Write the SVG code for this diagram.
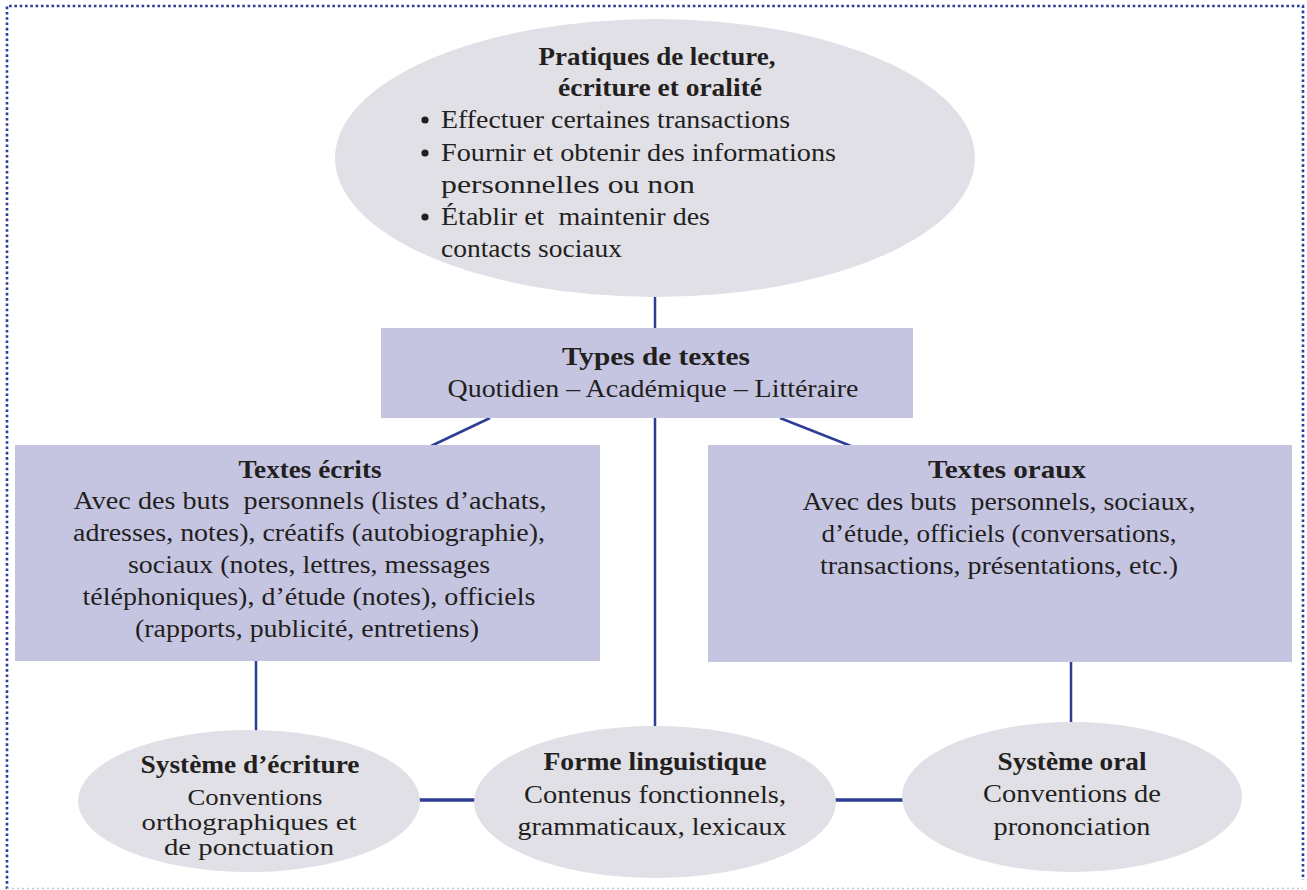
<svg xmlns="http://www.w3.org/2000/svg" width="1307" height="890" viewBox="0 0 1307 890">
<style>
.ell{fill:#e1e0e7}
.box{fill:#c5c5e2}
.ln{stroke:#2e3d95;stroke-width:2.5;fill:none}
.lnh{stroke:#2e3d95;stroke-width:3.5;fill:none}
text{font-family:"Liberation Serif","Times New Roman",serif;fill:#231f20;font-size:25px}
.b{font-weight:bold}
.c{text-anchor:middle}
.s{font-size:26px}
.t{font-size:23px}
.brd{stroke:#2e3d95;stroke-width:2.6;fill:none;stroke-dasharray:2.6 2.7}
.brdb{stroke:#c4c4d2;stroke-width:1.5;fill:none;stroke-dasharray:2 3}
</style>
<g id="border">
<path class="brd" d="M7,889 L7,6 L1303,6 L1303,880"/>
<path class="brdb" d="M7,888.5 L1303,888.5"/>
</g>
<g id="connectors">
<line class="ln" x1="655" y1="296" x2="655" y2="328"/>
<line class="ln" x1="655" y1="418" x2="655" y2="726"/>
<line class="ln" x1="490" y1="418" x2="431" y2="446"/>
<line class="ln" x1="780" y1="418" x2="851" y2="446"/>
<line class="ln" x1="256" y1="661" x2="256" y2="732"/>
<line class="ln" x1="1071" y1="662" x2="1071" y2="723"/>
<line class="lnh" x1="418" y1="800" x2="476" y2="800"/>
<line class="lnh" x1="833" y1="800" x2="904" y2="800"/>
</g>
<g id="pratiques">
<ellipse class="ell" cx="655" cy="158" rx="320" ry="139"/>
<text class="b c" x="657" y="65" textLength="237" lengthAdjust="spacingAndGlyphs">Pratiques de lecture,</text>
<text class="b c" x="660" y="96" textLength="204" lengthAdjust="spacingAndGlyphs">écriture et oralité</text>
<circle cx="425" cy="120" r="3.6" fill="#231f20"/>
<text x="441" y="128" textLength="349" lengthAdjust="spacingAndGlyphs">Effectuer certaines transactions</text>
<circle cx="425" cy="153" r="3.6" fill="#231f20"/>
<text x="441" y="161" textLength="395" lengthAdjust="spacingAndGlyphs">Fournir et obtenir des informations</text>
<text x="441" y="193" textLength="254" lengthAdjust="spacingAndGlyphs">personnelles ou non</text>
<circle cx="425" cy="217" r="3.6" fill="#231f20"/>
<text x="441" y="225" textLength="269" lengthAdjust="spacingAndGlyphs" xml:space="preserve">Établir et  maintenir des</text>
<text x="441" y="257" textLength="181" lengthAdjust="spacingAndGlyphs">contacts sociaux</text>
</g>
<g id="types">
<rect class="box" x="381" y="328" width="532" height="90"/>
<text class="b c" x="656" y="365" textLength="188" lengthAdjust="spacingAndGlyphs">Types de textes</text>
<text class="c" x="653" y="397" textLength="411" lengthAdjust="spacingAndGlyphs">Quotidien – Académique – Littéraire</text>
</g>
<g id="ecrits">
<rect class="box" x="15" y="445" width="585" height="216"/>
<text class="b c" x="310" y="478" textLength="143" lengthAdjust="spacingAndGlyphs">Textes écrits</text>
<text class="c" x="310" y="509" textLength="473" lengthAdjust="spacingAndGlyphs" xml:space="preserve">Avec des buts  personnels (listes d’achats,</text>
<text class="c" x="309" y="541" textLength="472" lengthAdjust="spacingAndGlyphs">adresses, notes), créatifs (autobiographie),</text>
<text class="c" x="309" y="573" textLength="362" lengthAdjust="spacingAndGlyphs">sociaux (notes, lettres, messages</text>
<text class="c" x="309" y="605" textLength="453" lengthAdjust="spacingAndGlyphs">téléphoniques), d’étude (notes), officiels</text>
<text class="c" x="307" y="637" textLength="344" lengthAdjust="spacingAndGlyphs">(rapports, publicité, entretiens)</text>
</g>
<g id="oraux">
<rect class="box" x="708" y="445" width="584" height="217"/>
<text class="b c" x="1007" y="478" textLength="158" lengthAdjust="spacingAndGlyphs">Textes oraux</text>
<text class="c" x="999" y="510" textLength="393" lengthAdjust="spacingAndGlyphs" xml:space="preserve">Avec des buts  personnels, sociaux,</text>
<text class="c" x="999" y="542" textLength="355" lengthAdjust="spacingAndGlyphs">d’étude, officiels (conversations,</text>
<text class="c" x="999" y="574" textLength="358" lengthAdjust="spacingAndGlyphs">transactions, présentations, etc.)</text>
</g>
<g id="systeme-ecriture">
<ellipse class="ell" cx="249" cy="801" rx="171" ry="71"/>
<text class="b c s" x="250" y="773" textLength="219" lengthAdjust="spacingAndGlyphs">Système d’écriture</text>
<text class="c t" x="255" y="805" textLength="135" lengthAdjust="spacingAndGlyphs">Conventions</text>
<text class="c t" x="249" y="830" textLength="215" lengthAdjust="spacingAndGlyphs">orthographiques et</text>
<text class="c t" x="249" y="855" textLength="170" lengthAdjust="spacingAndGlyphs">de ponctuation</text>
</g>
<g id="forme">
<ellipse class="ell" cx="655" cy="802" rx="181" ry="76"/>
<text class="b c s" x="655" y="770" textLength="223" lengthAdjust="spacingAndGlyphs">Forme linguistique</text>
<text class="c s" x="655" y="803" textLength="262" lengthAdjust="spacingAndGlyphs">Contenus fonctionnels,</text>
<text class="c s" x="652" y="835" textLength="269" lengthAdjust="spacingAndGlyphs">grammaticaux, lexicaux</text>
</g>
<g id="systeme-oral">
<ellipse class="ell" cx="1072" cy="797" rx="170" ry="75"/>
<text class="b c s" x="1072" y="770" textLength="149" lengthAdjust="spacingAndGlyphs">Système oral</text>
<text class="c s" x="1072" y="802" textLength="178" lengthAdjust="spacingAndGlyphs">Conventions de</text>
<text class="c s" x="1072" y="835" textLength="157" lengthAdjust="spacingAndGlyphs">prononciation</text>
</g>
</svg>
